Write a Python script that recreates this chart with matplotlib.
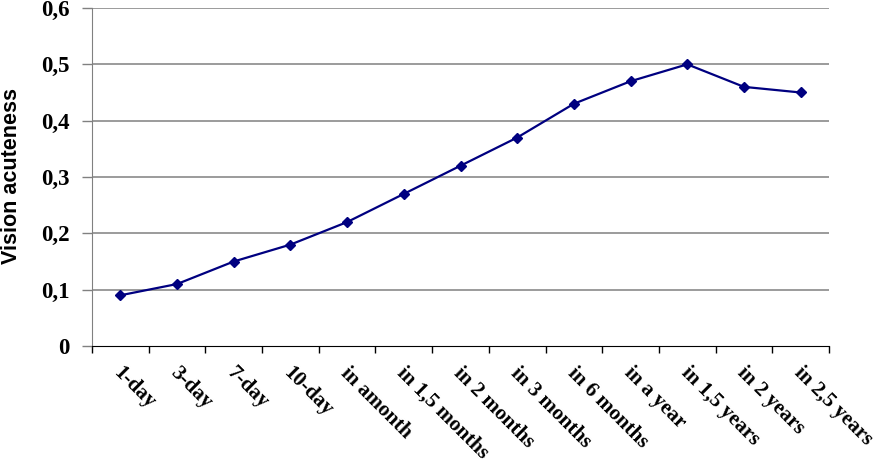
import matplotlib
matplotlib.use("Agg")
import matplotlib.pyplot as plt
from matplotlib.ticker import FuncFormatter, FixedLocator

categories = ["1-day", "3-day", "7-day", "10-day", "in amonth", "in 1,5 months",
              "in 2 months", "in 3 months", "in 6 months", "in a year",
              "in 1,5 years", "in 2 years", "in 2,5 years"]
values = [0.09, 0.11, 0.15, 0.18, 0.22, 0.27, 0.32, 0.37, 0.43, 0.47, 0.50, 0.46, 0.45]
y_ticks = [0, 0.1, 0.2, 0.3, 0.4, 0.5, 0.6]

fig = plt.figure(figsize=(8.8, 4.66), dpi=100)
ax = fig.add_axes([92/880, 1-346/466, (829-92)/880, (346-8)/466])

n = len(categories)
x = [i + 0.5 for i in range(n)]
ax.plot(x, values, color="#000080", lw=1.6, marker="D", ms=5, mec="#000080", mfc="#000080", zorder=3)

ax.set_xlim(0, n)
ax.set_ylim(0, 0.6)
ax.set_yticks(y_ticks)
ax.yaxis.set_major_formatter(FuncFormatter(lambda v, p: "0" if v == 0 else f"{v:.1f}".replace(".", ",")))
for v in y_ticks[1:]:
    ax.axhline(v, color="#808080", lw=1.1, zorder=1)

ax.xaxis.set_major_locator(FixedLocator(range(n + 1)))
ax.set_xticklabels([])
ax.tick_params(axis="x", length=5, width=1, color="black", direction="out")
ax.tick_params(axis="y", length=7, width=1, color="#808080", direction="out", pad=9)

for lab in ax.get_yticklabels():
    lab.set_fontfamily("Liberation Serif")
    lab.set_fontweight("bold")
    lab.set_fontsize(16.5)

for xi, c in zip(x, categories):
    ax.text(xi + 0.06, -0.03, c, rotation=-45, rotation_mode="anchor", ha="left", va="top",
            fontfamily="Liberation Serif", fontweight="bold", fontsize=15.2,
            transform=ax.transData, clip_on=False)

for s in ["top", "right"]:
    ax.spines[s].set_visible(False)
ax.spines["left"].set_color("#808080")
ax.spines["bottom"].set_color("black")

fig.text(12/880, 1-176/466, "Vision acuteness", rotation=90, ha="center", va="center",
         fontfamily="Liberation Sans", fontweight="bold", fontsize=15.5)

fig.savefig("out.png", dpi=100)
